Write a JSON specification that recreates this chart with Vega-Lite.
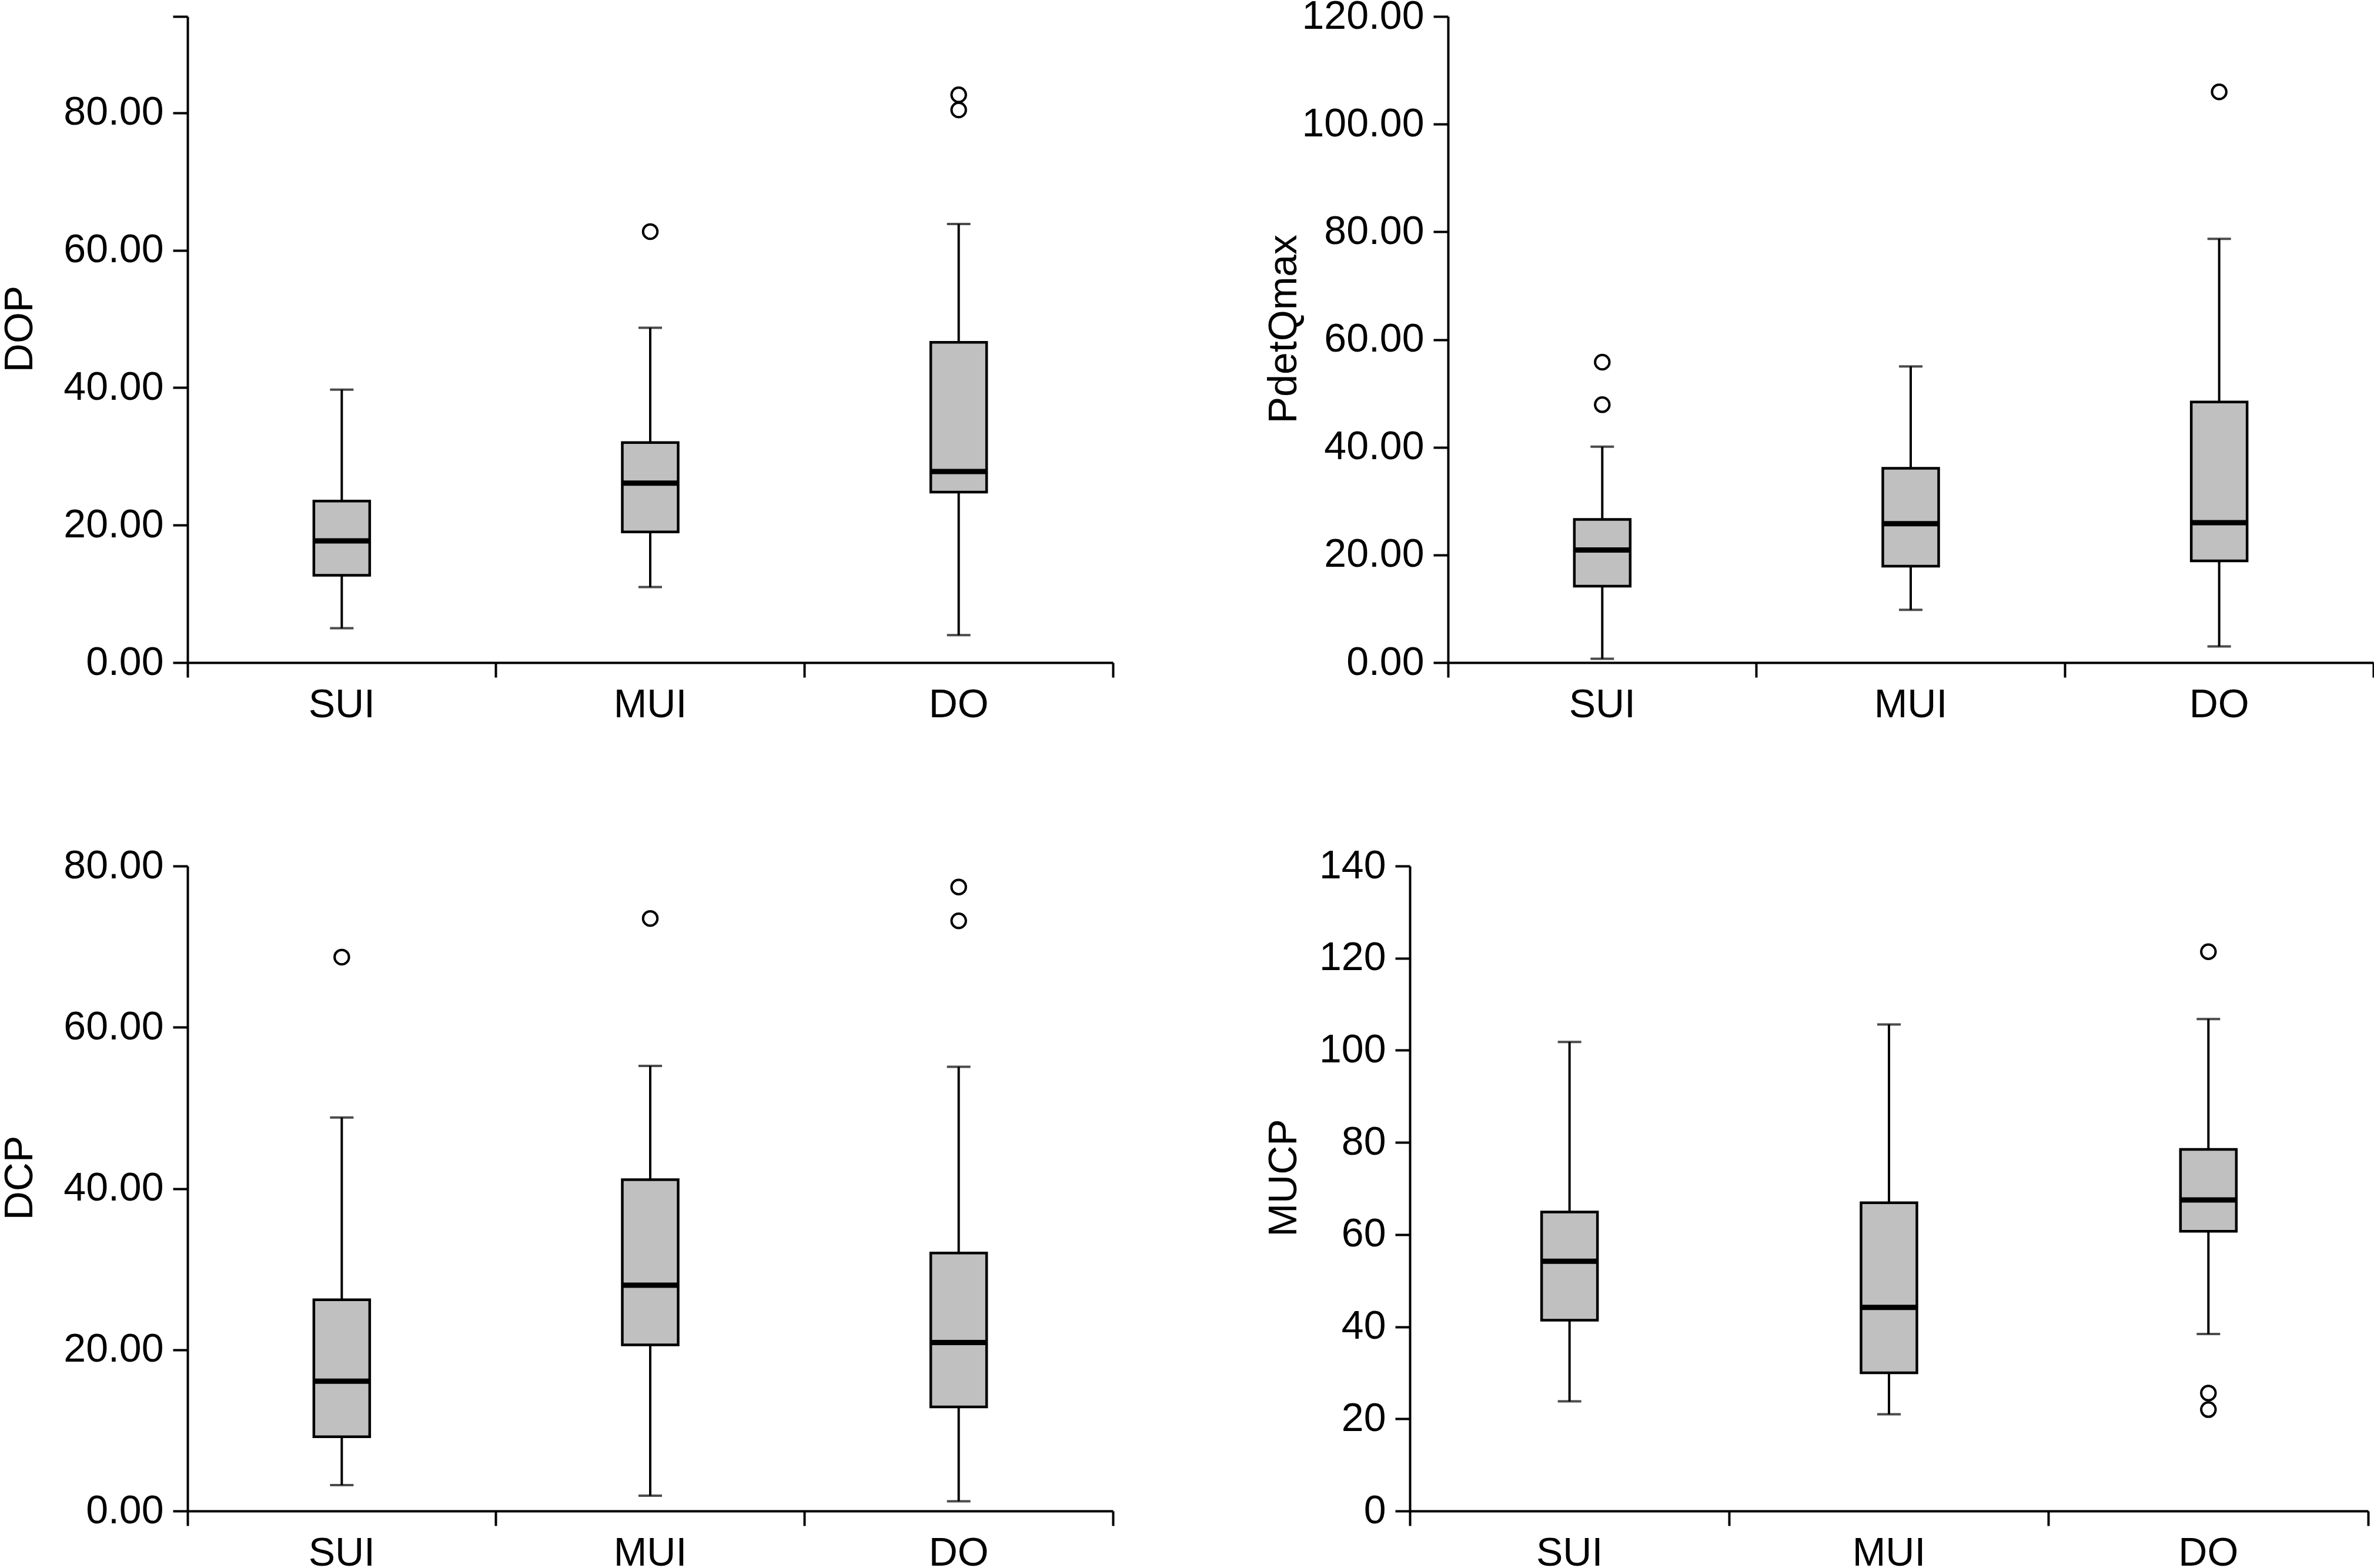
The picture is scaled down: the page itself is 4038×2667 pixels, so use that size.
{
  "$schema": "https://vega.github.io/schema/vega-lite/v6.json",
  "background": "white",
  "padding": {"left": 0, "top": -6, "right": 0, "bottom": 0},
  "datasets": {
    "box": [
      {"panel": "DOP", "grp": "SUI", "lo": 5.0, "q1": 12.7, "med": 17.7, "q3": 23.5, "hi": 39.7},
      {"panel": "DOP", "grp": "MUI", "lo": 11.0, "q1": 19.0, "med": 26.1, "q3": 32.0, "hi": 48.7},
      {"panel": "DOP", "grp": "DO", "lo": 4.0, "q1": 24.8, "med": 27.8, "q3": 46.6, "hi": 63.8},
      {"panel": "PdetQmax", "grp": "SUI", "lo": 0.7, "q1": 14.2, "med": 20.9, "q3": 26.6, "hi": 40.1},
      {"panel": "PdetQmax", "grp": "MUI", "lo": 9.8, "q1": 17.9, "med": 25.8, "q3": 36.1, "hi": 55.0},
      {"panel": "PdetQmax", "grp": "DO", "lo": 3.0, "q1": 18.9, "med": 26.0, "q3": 48.4, "hi": 78.7},
      {"panel": "DCP", "grp": "SUI", "lo": 3.2, "q1": 9.2, "med": 16.1, "q3": 26.2, "hi": 48.8},
      {"panel": "DCP", "grp": "MUI", "lo": 1.9, "q1": 20.6, "med": 28.0, "q3": 41.1, "hi": 55.2},
      {"panel": "DCP", "grp": "DO", "lo": 1.2, "q1": 12.9, "med": 20.9, "q3": 32.0, "hi": 55.1},
      {"panel": "MUCP", "grp": "SUI", "lo": 23.8, "q1": 41.4, "med": 54.2, "q3": 64.9, "hi": 101.8},
      {"panel": "MUCP", "grp": "MUI", "lo": 21.0, "q1": 30.0, "med": 44.2, "q3": 66.9, "hi": 105.6},
      {"panel": "MUCP", "grp": "DO", "lo": 38.4, "q1": 60.7, "med": 67.5, "q3": 78.5, "hi": 106.8}
    ],
    "out": [
      {"panel": "DOP", "grp": "MUI", "v": 62.7},
      {"panel": "DOP", "grp": "DO", "v": 82.6},
      {"panel": "DOP", "grp": "DO", "v": 80.4},
      {"panel": "PdetQmax", "grp": "SUI", "v": 55.8},
      {"panel": "PdetQmax", "grp": "SUI", "v": 47.9},
      {"panel": "PdetQmax", "grp": "DO", "v": 106.0},
      {"panel": "DCP", "grp": "SUI", "v": 68.7},
      {"panel": "DCP", "grp": "MUI", "v": 73.5},
      {"panel": "DCP", "grp": "DO", "v": 77.4},
      {"panel": "DCP", "grp": "DO", "v": 73.2},
      {"panel": "MUCP", "grp": "DO", "v": 121.4},
      {"panel": "MUCP", "grp": "DO", "v": 25.6},
      {"panel": "MUCP", "grp": "DO", "v": 22.0}
    ]
  },
  "config": {
    "view": {"stroke": null},
    "font": "Liberation Sans",
    "axis": {
      "domainColor": "black", "domainWidth": 4, "tickColor": "black", "tickWidth": 4, "tickSize": 25,
      "labelColor": "black", "labelFont": "Liberation Sans", "labelFontSize": 68, "labelLimit": 600,
      "titleColor": "black", "titleFont": "Liberation Sans", "titleFontSize": 68, "titleFontWeight": "normal",
      "grid": false
    },
    "axisX": {"labelAngle": 0, "labelPadding": 13, "bandPosition": 1, "tickExtra": true},
    "axisY": {"labelPadding": 16, "titleAngle": 270, "titleBaseline": "alphabetic", "titleAlign": "center"}
  },
  "vconcat": [
    {
      "hconcat": [
        {
          "width": 1574, "height": 1099,
          "layer": [
            {"data": {"name": "box"}, "transform": [{"filter": "datum.panel == 'DOP'"}], "mark": {"type": "rule", "color": "black", "strokeWidth": 4},
             "encoding": {"x": {"field": "grp", "type": "nominal", "sort": ["SUI", "MUI", "DO"], "scale": {"type": "band", "paddingInner": 0, "paddingOuter": 0}, "axis": {"title": null}},
                          "y": {"field": "lo", "type": "quantitative", "scale": {"domain": [0, 94], "nice": false}, "axis": {"title": "DOP", "titleX": -265, "titleY": 531, "values": [0, 20, 40, 60, 80, 94], "labelExpr": "datum.value == 94 ? '' : format(datum.value, '.2f')"}},
                          "y2": {"field": "hi"}}},
            {"data": {"name": "box"}, "transform": [{"filter": "datum.panel == 'DOP'"}], "mark": {"type": "tick", "color": "black", "size": 40, "thickness": 4}, "encoding": {"x": {"field": "grp", "type": "nominal", "sort": ["SUI", "MUI", "DO"]}, "y": {"field": "lo", "type": "quantitative"}}},
            {"data": {"name": "box"}, "transform": [{"filter": "datum.panel == 'DOP'"}], "mark": {"type": "tick", "color": "black", "size": 40, "thickness": 4}, "encoding": {"x": {"field": "grp", "type": "nominal", "sort": ["SUI", "MUI", "DO"]}, "y": {"field": "hi", "type": "quantitative"}}},
            {"data": {"name": "box"}, "transform": [{"filter": "datum.panel == 'DOP'"}], "mark": {"type": "bar", "size": 95, "fill": "#c0c0c0", "stroke": "black", "strokeWidth": 4.5}, "encoding": {"x": {"field": "grp", "type": "nominal", "sort": ["SUI", "MUI", "DO"]}, "y": {"field": "q1", "type": "quantitative"}, "y2": {"field": "q3"}}},
            {"data": {"name": "box"}, "transform": [{"filter": "datum.panel == 'DOP'"}], "mark": {"type": "tick", "color": "black", "size": 95, "thickness": 9, "opacity": 1}, "encoding": {"x": {"field": "grp", "type": "nominal", "sort": ["SUI", "MUI", "DO"]}, "y": {"field": "med", "type": "quantitative"}}},
            {"data": {"name": "out"}, "transform": [{"filter": "datum.panel == 'DOP'"}], "mark": {"type": "point", "shape": "circle", "filled": false, "stroke": "black", "strokeWidth": 4, "size": 600, "opacity": 1}, "encoding": {"x": {"field": "grp", "type": "nominal", "sort": ["SUI", "MUI", "DO"]}, "y": {"field": "v", "type": "quantitative"}}}
          ]
        },
        {
          "width": 1574, "height": 1099,
          "layer": [
            {"data": {"name": "box"}, "transform": [{"filter": "datum.panel == 'PdetQmax'"}], "mark": {"type": "rule", "color": "black", "strokeWidth": 4},
             "encoding": {"x": {"field": "grp", "type": "nominal", "sort": ["SUI", "MUI", "DO"], "scale": {"type": "band", "paddingInner": 0, "paddingOuter": 0}, "axis": {"title": null}},
                          "y": {"field": "lo", "type": "quantitative", "scale": {"domain": [0, 120], "nice": false}, "axis": {"title": "PdetQmax", "titleX": -259, "titleY": 531, "values": [0, 20, 40, 60, 80, 100, 120], "format": ".2f"}},
                          "y2": {"field": "hi"}}},
            {"data": {"name": "box"}, "transform": [{"filter": "datum.panel == 'PdetQmax'"}], "mark": {"type": "tick", "color": "black", "size": 40, "thickness": 4}, "encoding": {"x": {"field": "grp", "type": "nominal", "sort": ["SUI", "MUI", "DO"]}, "y": {"field": "lo", "type": "quantitative"}}},
            {"data": {"name": "box"}, "transform": [{"filter": "datum.panel == 'PdetQmax'"}], "mark": {"type": "tick", "color": "black", "size": 40, "thickness": 4}, "encoding": {"x": {"field": "grp", "type": "nominal", "sort": ["SUI", "MUI", "DO"]}, "y": {"field": "hi", "type": "quantitative"}}},
            {"data": {"name": "box"}, "transform": [{"filter": "datum.panel == 'PdetQmax'"}], "mark": {"type": "bar", "size": 95, "fill": "#c0c0c0", "stroke": "black", "strokeWidth": 4.5}, "encoding": {"x": {"field": "grp", "type": "nominal", "sort": ["SUI", "MUI", "DO"]}, "y": {"field": "q1", "type": "quantitative"}, "y2": {"field": "q3"}}},
            {"data": {"name": "box"}, "transform": [{"filter": "datum.panel == 'PdetQmax'"}], "mark": {"type": "tick", "color": "black", "size": 95, "thickness": 9, "opacity": 1}, "encoding": {"x": {"field": "grp", "type": "nominal", "sort": ["SUI", "MUI", "DO"]}, "y": {"field": "med", "type": "quantitative"}}},
            {"data": {"name": "out"}, "transform": [{"filter": "datum.panel == 'PdetQmax'"}], "mark": {"type": "point", "shape": "circle", "filled": false, "stroke": "black", "strokeWidth": 4, "size": 600, "opacity": 1}, "encoding": {"x": {"field": "grp", "type": "nominal", "sort": ["SUI", "MUI", "DO"]}, "y": {"field": "v", "type": "quantitative"}}}
          ]
        }
      ],
      "spacing": 570,
      "bounds": "flush"
    },
    {
      "hconcat": [
        {
          "width": 1574, "height": 1097,
          "layer": [
            {"data": {"name": "box"}, "transform": [{"filter": "datum.panel == 'DCP'"}], "mark": {"type": "rule", "color": "black", "strokeWidth": 4},
             "encoding": {"x": {"field": "grp", "type": "nominal", "sort": ["SUI", "MUI", "DO"], "scale": {"type": "band", "paddingInner": 0, "paddingOuter": 0}, "axis": {"title": null}},
                          "y": {"field": "lo", "type": "quantitative", "scale": {"domain": [0, 80], "nice": false}, "axis": {"title": "DCP", "titleX": -265, "titleY": 530, "values": [0, 20, 40, 60, 80], "format": ".2f"}},
                          "y2": {"field": "hi"}}},
            {"data": {"name": "box"}, "transform": [{"filter": "datum.panel == 'DCP'"}], "mark": {"type": "tick", "color": "black", "size": 40, "thickness": 4}, "encoding": {"x": {"field": "grp", "type": "nominal", "sort": ["SUI", "MUI", "DO"]}, "y": {"field": "lo", "type": "quantitative"}}},
            {"data": {"name": "box"}, "transform": [{"filter": "datum.panel == 'DCP'"}], "mark": {"type": "tick", "color": "black", "size": 40, "thickness": 4}, "encoding": {"x": {"field": "grp", "type": "nominal", "sort": ["SUI", "MUI", "DO"]}, "y": {"field": "hi", "type": "quantitative"}}},
            {"data": {"name": "box"}, "transform": [{"filter": "datum.panel == 'DCP'"}], "mark": {"type": "bar", "size": 95, "fill": "#c0c0c0", "stroke": "black", "strokeWidth": 4.5}, "encoding": {"x": {"field": "grp", "type": "nominal", "sort": ["SUI", "MUI", "DO"]}, "y": {"field": "q1", "type": "quantitative"}, "y2": {"field": "q3"}}},
            {"data": {"name": "box"}, "transform": [{"filter": "datum.panel == 'DCP'"}], "mark": {"type": "tick", "color": "black", "size": 95, "thickness": 9, "opacity": 1}, "encoding": {"x": {"field": "grp", "type": "nominal", "sort": ["SUI", "MUI", "DO"]}, "y": {"field": "med", "type": "quantitative"}}},
            {"data": {"name": "out"}, "transform": [{"filter": "datum.panel == 'DCP'"}], "mark": {"type": "point", "shape": "circle", "filled": false, "stroke": "black", "strokeWidth": 4, "size": 600, "opacity": 1}, "encoding": {"x": {"field": "grp", "type": "nominal", "sort": ["SUI", "MUI", "DO"]}, "y": {"field": "v", "type": "quantitative"}}}
          ]
        },
        {
          "width": 1630, "height": 1097,
          "layer": [
            {"data": {"name": "box"}, "transform": [{"filter": "datum.panel == 'MUCP'"}], "mark": {"type": "rule", "color": "black", "strokeWidth": 4},
             "encoding": {"x": {"field": "grp", "type": "nominal", "sort": ["SUI", "MUI", "DO"], "scale": {"type": "band", "paddingInner": 0, "paddingOuter": 0}, "axis": {"title": null}},
                          "y": {"field": "lo", "type": "quantitative", "scale": {"domain": [0, 140], "nice": false}, "axis": {"title": "MUCP", "titleX": -194, "titleY": 530, "values": [0, 20, 40, 60, 80, 100, 120, 140], "format": "d"}},
                          "y2": {"field": "hi"}}},
            {"data": {"name": "box"}, "transform": [{"filter": "datum.panel == 'MUCP'"}], "mark": {"type": "tick", "color": "black", "size": 40, "thickness": 4}, "encoding": {"x": {"field": "grp", "type": "nominal", "sort": ["SUI", "MUI", "DO"]}, "y": {"field": "lo", "type": "quantitative"}}},
            {"data": {"name": "box"}, "transform": [{"filter": "datum.panel == 'MUCP'"}], "mark": {"type": "tick", "color": "black", "size": 40, "thickness": 4}, "encoding": {"x": {"field": "grp", "type": "nominal", "sort": ["SUI", "MUI", "DO"]}, "y": {"field": "hi", "type": "quantitative"}}},
            {"data": {"name": "box"}, "transform": [{"filter": "datum.panel == 'MUCP'"}], "mark": {"type": "bar", "size": 95, "fill": "#c0c0c0", "stroke": "black", "strokeWidth": 4.5}, "encoding": {"x": {"field": "grp", "type": "nominal", "sort": ["SUI", "MUI", "DO"]}, "y": {"field": "q1", "type": "quantitative"}, "y2": {"field": "q3"}}},
            {"data": {"name": "box"}, "transform": [{"filter": "datum.panel == 'MUCP'"}], "mark": {"type": "tick", "color": "black", "size": 95, "thickness": 9, "opacity": 1}, "encoding": {"x": {"field": "grp", "type": "nominal", "sort": ["SUI", "MUI", "DO"]}, "y": {"field": "med", "type": "quantitative"}}},
            {"data": {"name": "out"}, "transform": [{"filter": "datum.panel == 'MUCP'"}], "mark": {"type": "point", "shape": "circle", "filled": false, "stroke": "black", "strokeWidth": 4, "size": 600, "opacity": 1}, "encoding": {"x": {"field": "grp", "type": "nominal", "sort": ["SUI", "MUI", "DO"]}, "y": {"field": "v", "type": "quantitative"}}}
          ]
        }
      ],
      "spacing": 505,
      "bounds": "flush"
    }
  ],
  "spacing": 206
}
